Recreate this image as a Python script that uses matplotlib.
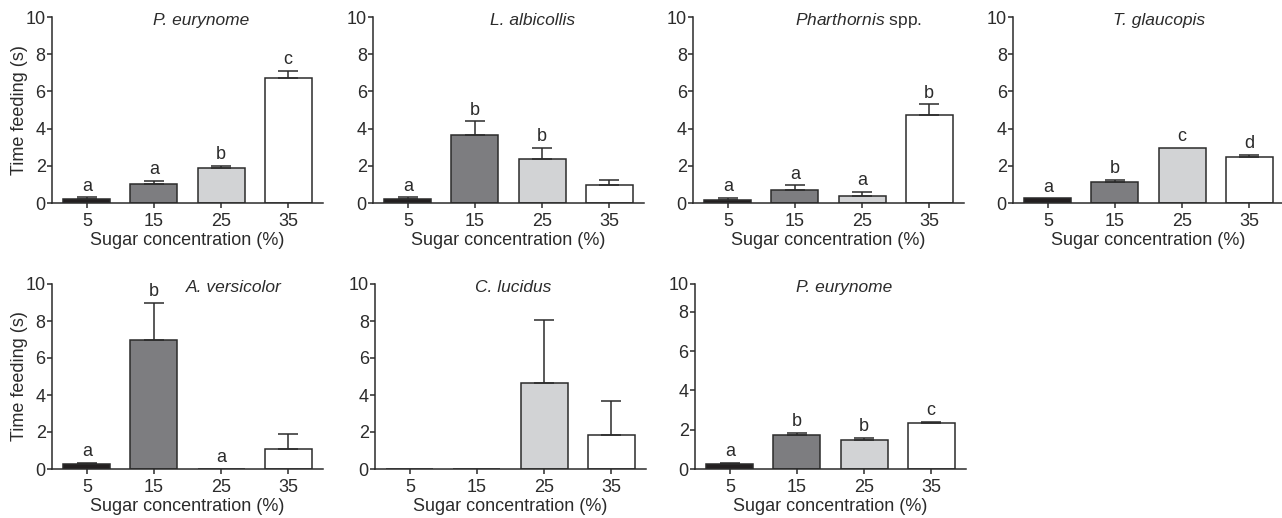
import numpy as np
import matplotlib
matplotlib.use('Agg')
import matplotlib.pyplot as plt

plt.rcParams['font.family'] = ['Liberation Sans', 'DejaVu Sans']
plt.rcParams['mathtext.fontset'] = 'custom'
plt.rcParams['mathtext.it'] = 'Liberation Sans:italic'
plt.rcParams['mathtext.rm'] = 'Liberation Sans'

conc = ['5', '15', '25', '35']
bar_colors = ['#231f20', '#7d7d80', '#d2d3d5', '#ffffff']

species = ['P. eurynome', 'L. albicollis', 'Pharthornis', 'T. glaucopis',
           'A. versicolor', 'C. lucidus', 'P. eurynome']
suffix = ['', '', 'spp.', '', '', '', '']

means = [
    [0.23, 1.02, 1.86, 6.70],
    [0.23, 3.68, 2.36, 0.95],
    [0.16, 0.71, 0.38, 4.71],
    [0.25, 1.14, 2.95, 2.50],
    [0.25, 6.98, 0.0, 1.08],
    [0.0, 0.0, 4.66, 1.85],
    [0.24, 1.74, 1.49, 2.34],
]
errs = [
    [0.07, 0.18, 0.14, 0.40],
    [0.07, 0.71, 0.59, 0.26],
    [0.11, 0.24, 0.21, 0.59],
    [0.0, 0.09, 0.0, 0.10],
    [0.07, 1.99, 0.0, 0.82],
    [0.0, 0.0, 3.42, 1.85],
    [0.06, 0.08, 0.08, 0.06],
]
letters = [
    ['a', 'a', 'b', 'c'],
    ['a', 'b', 'b', ''],
    ['a', 'a', 'a', 'b'],
    ['a', 'b', 'c', 'd'],
    ['a', 'b', 'a', ''],
    ['', '', '', ''],
    ['a', 'b', 'b', 'c'],
]

# layout (pixels in a 1282 x 518 figure)
W, H = 1282, 518
lefts = [52, 373, 693, 1013, 52, 375, 695]
tops = [17, 17, 17, 17, 284, 284, 284]
bottoms = [203, 203, 203, 203, 469, 469, 469]
ax_w = 271
title_x = [0.55, 0.59, 0.61, 0.54, 0.67, 0.51, 0.55]

ink = '#2b2b2b'
fs = 13
fig = plt.figure(figsize=(W / 100, H / 100), dpi=100)

for i in range(7):
    ax = fig.add_axes([lefts[i] / W, 1 - bottoms[i] / H, ax_w / W,
                       (bottoms[i] - tops[i]) / H])
    x = np.arange(len(conc))
    ax.bar(x, means[i], width=0.7, color=bar_colors, edgecolor=ink,
           linewidth=1.1, zorder=2)
    for j in range(len(conc)):
        if errs[i][j] > 0:
            ax.errorbar(x[j], means[i][j], yerr=[[0], [errs[i][j]]], fmt='none',
                        ecolor=ink, elinewidth=1.1, capsize=7.5, capthick=1.1,
                        zorder=3)
        if letters[i][j]:
            ax.annotate(letters[i][j], (x[j], means[i][j] + errs[i][j]),
                        xytext=(0, 2), textcoords='offset points',
                        ha='center', va='bottom', fontsize=fs, color=ink)
    ax.set_xlim(-0.52, 3.52)
    if i == 6:
        # this panel's axis in the original is compressed at the top
        ax.set_ylim(0, 9.42)
        ax.set_yticks([0, 2, 4, 6, 8, 9.42])
        ax.set_yticklabels(['0', '2', '4', '6', '8', '10'])
    else:
        ax.set_ylim(0, 10)
        ax.set_yticks([0, 2, 4, 6, 8, 10])
    ax.set_xticks(x)
    ax.set_xticklabels(conc)
    ax.tick_params(axis='both', labelsize=fs, colors=ink, length=3.5,
                   width=1.1)
    ax.tick_params(axis='x', pad=4)
    ax.tick_params(axis='y', pad=1)
    for s in ['top', 'right']:
        ax.spines[s].set_visible(False)
    for s in ['left', 'bottom']:
        ax.spines[s].set_color(ink)
        ax.spines[s].set_linewidth(1.1)
    ax.set_xlabel('Sugar concentration (%)', fontsize=fs, color=ink, labelpad=1)
    if i in (0, 4):
        ax.set_ylabel('Time feeding (s)', fontsize=fs, color=ink)
        ax.yaxis.set_label_coords(-0.09, 0.5)
    if suffix[i]:
        ax.text(title_x[i], 0.98, r'$\it{%s}$ %s' % (species[i], suffix[i]),
                transform=ax.transAxes, ha='center', va='center',
                fontsize=12.5, color=ink)
    else:
        ax.text(title_x[i], 0.98, species[i], transform=ax.transAxes,
                ha='center', va='center', fontsize=12.5, style='italic',
                color=ink)

fig.savefig('out.png', dpi=100)
